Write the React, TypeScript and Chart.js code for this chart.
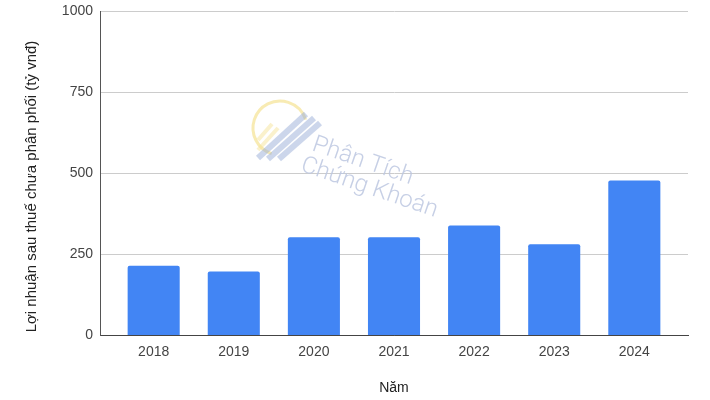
import React, { useEffect, useRef } from "react";
import { Chart, registerables } from "chart.js";

Chart.register(...registerables);

const years = ["2018", "2019", "2020", "2021", "2022", "2023", "2024"];
const profit = [215, 197, 303, 303, 339, 281, 478];
const yTicks = [0, 250, 500, 750, 1000];
const yTitle = "Lợi nhuận sau thuế chưa phân phối (tỷ vnđ)";
const xTitle = "Năm";
const watermark1 = "Phân Tích";
const watermark2 = "Chứng Khoán";

const FONT = "'Liberation Sans', Arial, sans-serif";

const yTitlePlugin = {
  id: "yTitle",
  afterDraw(chart: any) {
    const ctx = chart.ctx as CanvasRenderingContext2D;
    ctx.save();
    ctx.fillStyle = "#222";
    ctx.font = `15px ${FONT}`;
    ctx.textAlign = "center";
    ctx.textBaseline = "middle";
    ctx.translate(32, 186.5);
    ctx.rotate(-Math.PI / 2);
    ctx.fillText(yTitle, 0, 0);
    ctx.restore();
  },
};

const watermarkPlugin = {
  id: "watermark",
  afterDraw(chart: any) {
    const ctx = chart.ctx as CanvasRenderingContext2D;
    ctx.save();
    // logo
    const cx = 280, cy = 128, r = 27;
    ctx.globalAlpha = 0.5;
    ctx.strokeStyle = "#f2d867";
    ctx.lineWidth = 3;
    ctx.beginPath();
    ctx.arc(cx, cy, r, Math.PI * 0.6, Math.PI * 1.9);
    ctx.stroke();
    ctx.strokeStyle = "#f5e49a";
    ctx.lineWidth = 4;
    const ys = [
      [258, 140, 272, 124],
      [258, 150, 278, 128],
    ];
    for (const b of ys) {
      ctx.beginPath();
      ctx.moveTo(b[0], b[1]);
      ctx.lineTo(b[2], b[3]);
      ctx.stroke();
    }
    ctx.strokeStyle = "#9aaed8";
    ctx.lineWidth = 6;
    ctx.lineCap = "butt";
    const bars = [
      [258, 158, 306, 114],
      [268, 159, 314, 118],
      [279, 159, 320, 123],
    ];
    for (const b of bars) {
      ctx.beginPath();
      ctx.moveTo(b[0], b[1]);
      ctx.lineTo(b[2], b[3]);
      ctx.stroke();
    }
    // text
    ctx.globalAlpha = 0.85;
    ctx.fillStyle = "#bcc7e0";
    ctx.font = "300 24px Roboto, 'Open Sans', sans-serif";
    ctx.translate(311, 150);
    ctx.rotate((19 * Math.PI) / 180);
    ctx.textBaseline = "alphabetic";
    ctx.fillText(watermark1, 0, 0);
    ctx.fillText(watermark2, -4, 23);
    ctx.restore();
  },
};

export default function App() {
  const ref = useRef<HTMLCanvasElement>(null);
  useEffect(() => {
    if (!ref.current) return;
    const chart = new Chart(ref.current, {
      type: "bar",
      data: {
        datasets: [
          {
            data: profit.map((v, i) => ({ x: i, y: v })),
            backgroundColor: "#4285f4",
            borderRadius: { topLeft: 2, topRight: 2, bottomLeft: 0, bottomRight: 0 },
            borderSkipped: "bottom",
            barPercentage: 0.65,
            categoryPercentage: 1,
          },
        ],
      },
      options: {
        animation: false,
        responsive: false,
        devicePixelRatio: 1,
        layout: { padding: { top: 11, right: 22, left: 0, bottom: 0 } },
        plugins: { legend: { display: false }, tooltip: { enabled: false } },
        scales: {
          x: {
            type: "linear",
            offset: false,
            min: -0.67,
            max: 6.67,
            afterBuildTicks: (s: any) => {
              s.ticks = years.map((_, i) => ({ value: i }));
            },
            afterFit: (s: any) => {
              s.height = 64.5;
              s.paddingLeft = 0;
              s.paddingRight = 0;
            },
            grid: { display: false, drawTicks: false },
            border: { display: true, color: "#444", width: 1 },
            ticks: {
              autoSkip: false,
              maxRotation: 0,
              padding: 8,
              color: "#444",
              font: { family: FONT, size: 14 },
              callback: (v: any) => years[v as number] ?? "",
            },
            title: {
              display: true,
              text: xTitle,
              color: "#222",
              font: { family: FONT, size: 14 },
              padding: { top: 0, bottom: 3.6 },
            },
          },
          y: {
            min: 0,
            max: 1000,
            afterBuildTicks: (s: any) => {
              s.ticks = yTicks.map((v) => ({ value: v }));
            },
            afterFit: (s: any) => {
              s.width = 100;
              s.paddingTop = 0;
              s.paddingBottom = 0;
            },
            grid: {
              color: (c: any) => (c.tick && c.tick.value === 0 ? "#444" : "#cccccc"),
              drawTicks: false,
            },
            border: { display: true, color: "#555", width: 1 },
            ticks: {
              padding: 7,
              color: "#444",
              font: { family: FONT, size: 14 },
              callback: (v: any) => String(v),
            },
            title: { display: false },
          },
        },
      },
      plugins: [watermarkPlugin, yTitlePlugin],
    } as any);
    return () => chart.destroy();
  }, []);
  return (
    <div style={{ position: "absolute", left: 0, top: 0, width: 710, height: 400, background: "#fff" }}>
      <canvas ref={ref} width={710} height={400} />
    </div>
  );
}
